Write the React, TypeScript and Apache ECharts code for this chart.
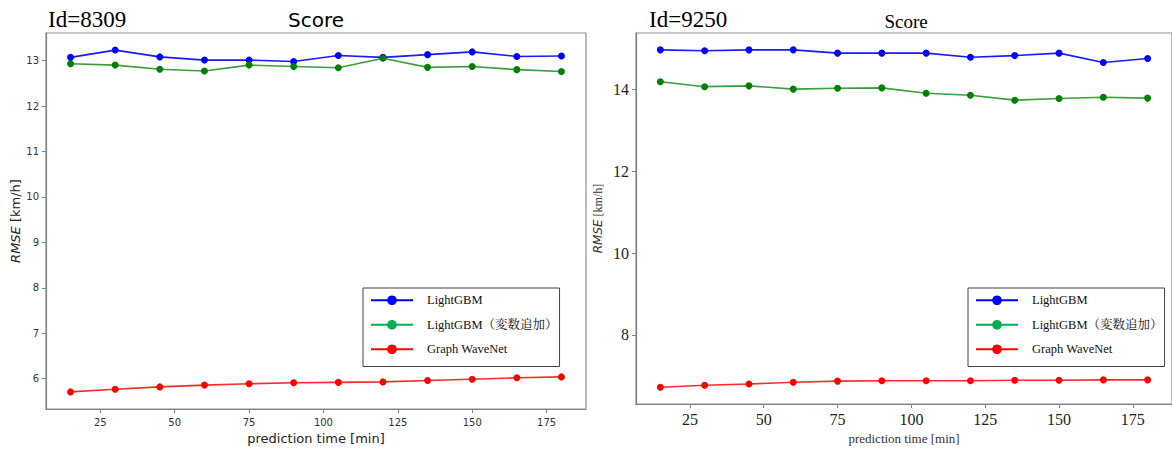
import React, { useEffect, useRef } from "react";
import * as echarts from "echarts";

const predictionTimes = [15, 30, 45, 60, 75, 90, 105, 120, 135, 150, 165, 180];

const seriesNames = ["LightGBM", "LightGBM（変数追加）", "Graph WaveNet"];

// Id=8309
const leftLightGBM = [13.07, 13.23, 13.08, 13.01, 13.01, 12.98, 13.11, 13.07, 13.13, 13.19, 13.09, 13.1];
const leftLightGBMPlus = [12.93, 12.9, 12.81, 12.77, 12.9, 12.87, 12.84, 13.05, 12.85, 12.87, 12.8, 12.76];
const leftGraphWaveNet = [5.71, 5.77, 5.82, 5.86, 5.89, 5.91, 5.92, 5.93, 5.96, 5.99, 6.02, 6.04];

// Id=9250
const rightLightGBM = [14.97, 14.95, 14.97, 14.97, 14.89, 14.89, 14.89, 14.79, 14.83, 14.89, 14.66, 14.76];
const rightLightGBMPlus = [14.19, 14.07, 14.09, 14.01, 14.03, 14.04, 13.91, 13.86, 13.74, 13.78, 13.81, 13.79];
const rightGraphWaveNet = [6.72, 6.77, 6.8, 6.84, 6.87, 6.88, 6.88, 6.88, 6.89, 6.89, 6.9, 6.9];

const xTicks = [25, 50, 75, 100, 125, 150, 175];
const leftYTicks = [6, 7, 8, 9, 10, 11, 12, 13];
const rightYTicks = [8, 10, 12, 14];

const SANS = "DejaVu Sans";
const SERIF = '"Liberation Serif", "Noto Serif CJK JP", "Noto Sans CJK JP", serif';

const lineColors = ["#1a1aff", "#3c9e3c", "#ff2a2a"];
const markerColors = ["#0000ff", "#008000", "#ff0000"];
const legendColors = ["#0000ff", "#00b050", "#ff0000"];

function bounds(arrs: number[][]) {
  const all = arrs.flat();
  const mn = Math.min(...all);
  const mx = Math.max(...all);
  const pad = (mx - mn) * 0.05;
  return [mn - pad, mx + pad];
}

const xPad = (predictionTimes[predictionTimes.length - 1] - predictionTimes[0]) * 0.05;
const xMin = predictionTimes[0] - xPad;
const xMax = predictionTimes[predictionTimes.length - 1] + xPad;

export default function App() {
  const ref = useRef<HTMLDivElement>(null);
  useEffect(() => {
    document.body.style.margin = "0";
    const chart = echarts.init(ref.current!, null, { renderer: "svg" });
    const leftB = bounds([leftLightGBM, leftLightGBMPlus, leftGraphWaveNet]);
    const rightB = bounds([rightLightGBM, rightLightGBMPlus, rightGraphWaveNet]);

    const mkSeries = (vals: number[], i: number, axis: number) => ({
      type: "line",
      name: seriesNames[i],
      xAxisIndex: axis,
      yAxisIndex: axis,
      data: predictionTimes.map((x, k) => [x, vals[k]]),
      symbol: "circle",
      symbolSize: 7,
      lineStyle: { color: lineColors[i], width: 1.6 },
      itemStyle: { color: markerColors[i] },
      emphasis: { disabled: true },
    });

    const axisLineStyle = { lineStyle: { color: "#808080", width: 1.2 } };
    const tickStyle = { lineStyle: { color: "#808080", width: 1 } };

    const mkLegend = (left: number) => ({
      left,
      top: 288,
      orient: "vertical",
      itemWidth: 42,
      itemHeight: 12,
      itemGap: 12,
      padding: [6, 2, 11, 7],
      backgroundColor: "#fff",
      borderColor: "#444",
      borderWidth: 1,
      borderRadius: 0,
      selectedMode: false,
      textStyle: { fontFamily: SERIF, fontSize: 12.5, color: "#111", padding: [0, 0, 0, 9] },
      data: seriesNames.map((n, i) => ({
        name: n,
        itemStyle: { color: legendColors[i] },
        lineStyle: { color: legendColors[i], width: 2 },
      })),
    });

    chart.setOption({
      animation: false,
      grid: [
        { left: 46, top: 33, width: 540, height: 376, show: true, borderColor: "#909090", borderWidth: 1.2, backgroundColor: "transparent" },
        { left: 636, top: 33, width: 540, height: 376, show: true, borderColor: "#909090", borderWidth: 1.2, backgroundColor: "transparent" },
      ],
      xAxis: [
        {
          type: "value",
          gridIndex: 0,
          min: xMin,
          max: xMax,
          splitLine: { show: false },
          axisLine: axisLineStyle,
          axisTick: { show: true, length: 4, customValues: xTicks, ...tickStyle },
          axisLabel: { customValues: xTicks, fontFamily: SANS, fontSize: 10, color: "#333", margin: 8 },
          name: "prediction time [min]",
          nameLocation: "middle",
          nameGap: 19,
          nameTextStyle: { fontFamily: SANS, fontSize: 13, color: "#222" },
        },
        {
          type: "value",
          gridIndex: 1,
          min: xMin,
          max: xMax,
          splitLine: { show: false },
          axisLine: axisLineStyle,
          axisTick: { show: true, length: 4, customValues: xTicks, ...tickStyle },
          axisLabel: { customValues: xTicks, fontFamily: SERIF, fontSize: 16, color: "#222", margin: 7 },
          name: "prediction time [min]",
          nameLocation: "middle",
          nameGap: 27,
          nameTextStyle: { fontFamily: SERIF, fontSize: 13, color: "#333" },
        },
      ],
      yAxis: [
        {
          type: "value",
          gridIndex: 0,
          min: leftB[0],
          max: leftB[1],
          splitLine: { show: false },
          axisLine: { show: true, ...axisLineStyle },
          axisTick: { show: true, length: 4, customValues: leftYTicks, ...tickStyle },
          axisLabel: { customValues: leftYTicks, fontFamily: SANS, fontSize: 10, color: "#333", margin: 7 },
          name: "{i|RMSE} [km/h]",
          nameLocation: "middle",
          nameGap: 24,
          nameTextStyle: {
            fontFamily: SANS,
            fontSize: 13,
            color: "#222",
            rich: { i: { fontFamily: SANS, fontSize: 13, fontStyle: "italic", color: "#222" } },
          },
        },
        {
          type: "value",
          gridIndex: 1,
          min: rightB[0],
          max: rightB[1],
          splitLine: { show: false },
          axisLine: { show: true, ...axisLineStyle },
          axisTick: { show: true, length: 4, customValues: rightYTicks, ...tickStyle },
          axisLabel: { customValues: rightYTicks, fontFamily: SERIF, fontSize: 16, color: "#222", margin: 7 },
          name: "{i|RMSE} [km/h]",
          nameLocation: "middle",
          nameGap: 32,
          nameTextStyle: {
            fontFamily: SERIF,
            fontSize: 12,
            color: "#333",
            rich: { i: { fontFamily: SANS, fontSize: 12, fontStyle: "italic", color: "#333" } },
          },
        },
      ],
      legend: [mkLegend(363), mkLegend(968)],
      series: [
        mkSeries(leftLightGBM, 0, 0),
        mkSeries(leftLightGBMPlus, 1, 0),
        mkSeries(leftGraphWaveNet, 2, 0),
        mkSeries(rightLightGBM, 0, 1),
        mkSeries(rightLightGBMPlus, 1, 1),
        mkSeries(rightGraphWaveNet, 2, 1),
      ],
      graphic: [
        { type: "text", x: 48, y: 19, style: { text: "Id=8309", fontFamily: SERIF, fontSize: 23, fill: "#000", align: "left", verticalAlign: "middle" } },
        { type: "text", x: 316, y: 20, style: { text: "Score", fontFamily: SANS, fontSize: 20, fill: "#000", align: "center", verticalAlign: "middle" } },
        { type: "text", x: 649, y: 19, style: { text: "Id=9250", fontFamily: SERIF, fontSize: 23, fill: "#000", align: "left", verticalAlign: "middle" } },
        { type: "text", x: 906, y: 21, style: { text: "Score", fontFamily: SERIF, fontSize: 19, fill: "#000", align: "center", verticalAlign: "middle" } },
      ],
    });
    return () => chart.dispose();
  }, []);
  return <div ref={ref} style={{ width: 1172, height: 450 }} />;
}
